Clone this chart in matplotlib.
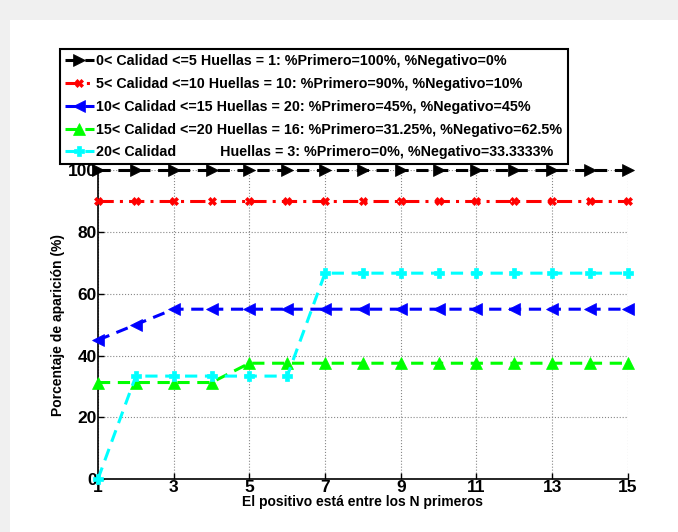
import numpy as np
import matplotlib.pyplot as plt
from matplotlib.patches import Rectangle

plt.rcParams['font.family'] = ['Liberation Sans', 'DejaVu Sans']
plt.rcParams['font.weight'] = 'bold'

n_values = list(range(1, 16))
q0_5 = [100] * 15
q5_10 = [90] * 15
q10_15 = [45, 50] + [55] * 13
q15_20 = [31.25] * 4 + [37.5] * 11
q20 = [0] + [33.3333] * 5 + [66.6667] * 9

labels = ['0< Calidad <=5 Huellas = 1: %Primero=100%, %Negativo=0%',
          '5< Calidad <=10 Huellas = 10: %Primero=90%, %Negativo=10%',
          '10< Calidad <=15 Huellas = 20: %Primero=45%, %Negativo=45%',
          '15< Calidad <=20 Huellas = 16: %Primero=31.25%, %Negativo=62.5%',
          '20< Calidad           Huellas = 3: %Primero=0%, %Negativo=33.3333%']

STYLES = [('black', '>', (0, (4, 2.5)), 8),
          ('red', 'X', (0, (5, 2, 1, 2)), 6),
          ('blue', '<', (0, (4, 2.5)), 8),
          ('#00ff00', '^', (0, (4, 2.5)), 8),
          ('cyan', 'P', (0, (4, 2.5)), 7)]

fig = plt.figure(figsize=(6.78, 5.32), dpi=100, facecolor='white')
# light grey screenshot frame on top and left
fig.patches.append(Rectangle((0, 1 - 20 / 532), 1, 20 / 532, transform=fig.transFigure,
                             facecolor='#f0f0f0', edgecolor='none', zorder=-5))
fig.patches.append(Rectangle((0, 0), 10 / 678, 1, transform=fig.transFigure,
                             facecolor='#f0f0f0', edgecolor='none', zorder=-5))
ax = fig.add_axes([0.1445, 0.0996, 0.7815, 0.5804])
ax.set_facecolor('white')

for y, lab, (color, marker, ls, ms) in zip([q0_5, q5_10, q10_15, q15_20, q20], labels, STYLES):
    ax.plot(n_values, y, color=color, ls=ls, lw=2.2, marker=marker, ms=ms,
            mew=0.5, label=lab, clip_on=False, zorder=5)

ax.set_xlim(1, 15)
ax.set_ylim(0, 100)
ax.set_xticks(range(1, 16, 2))
ax.set_yticks(range(0, 101, 20))
ax.tick_params(direction='in', labelsize=12.5, width=1, length=4, pad=1)
for t in ax.get_xticklabels() + ax.get_yticklabels():
    t.set_fontweight('bold')
ax.grid(True, color='#888888', ls=':', lw=0.8)
ax.spines['top'].set_visible(False)
ax.spines['right'].set_visible(False)
ax.spines['left'].set_linewidth(1.2)
ax.spines['bottom'].set_linewidth(1.2)
ax.set_xlabel('El positivo está entre los N primeros', fontsize=10, fontweight='bold', labelpad=0)
ax.set_ylabel('Porcentaje de aparición (%)', fontsize=10, fontweight='bold', labelpad=2)

leg = fig.legend(loc='upper left', bbox_to_anchor=(0.0885, 0.908), fontsize=10.3,
                 frameon=True, fancybox=False, edgecolor='black', framealpha=1,
                 handlelength=2.0, handletextpad=0.2, borderpad=0.35, labelspacing=0.62,
                 borderaxespad=0, numpoints=1)
leg.get_frame().set_linewidth(1.5)
for t in leg.get_texts():
    t.set_fontweight('bold')

fig.savefig('out.png', dpi=100, facecolor=fig.get_facecolor())
